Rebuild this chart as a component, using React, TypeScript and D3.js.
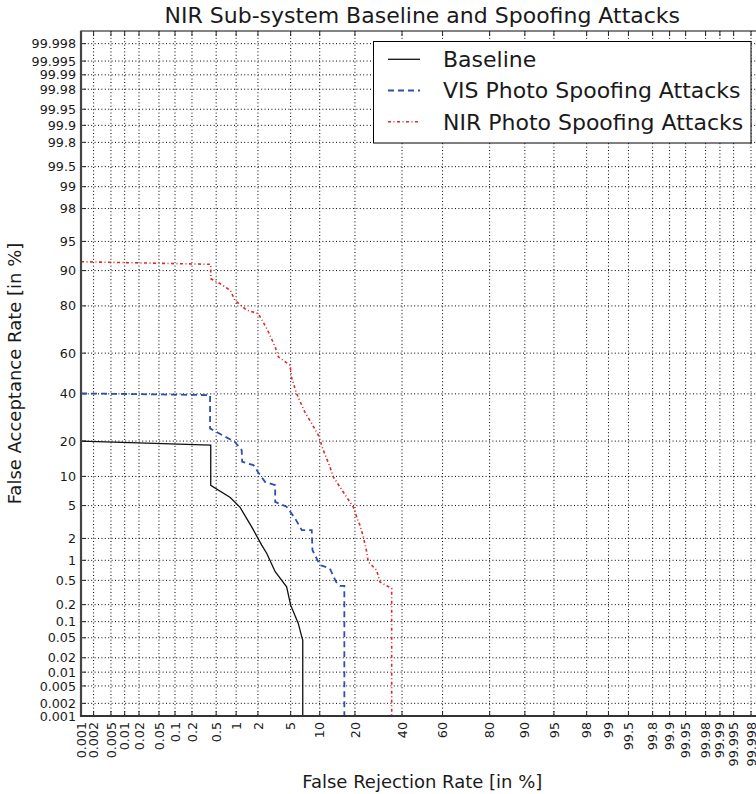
import React from "react";
import * as d3 from "d3";

const tickValues = [0.001, 0.002, 0.005, 0.01, 0.02, 0.05, 0.1, 0.2, 0.5, 1, 2, 5, 10, 20, 40, 60, 80, 90, 95, 98, 99, 99.5, 99.8, 99.9, 99.95, 99.98, 99.99, 99.995, 99.998];
const tickLabels = ["0.001", "0.002", "0.005", "0.01", "0.02", "0.05", "0.1", "0.2", "0.5", "1", "2", "5", "10", "20", "40", "60", "80", "90", "95", "98", "99", "99.5", "99.8", "99.9", "99.95", "99.98", "99.99", "99.995", "99.998"];

const baselineFRR = [0.001, 0.41, 0.41, 0.82, 1.14, 1.65, 2.24, 2.6, 3.3, 4.5, 5.0, 6.06, 6.6, 6.76, 6.76];
const baselineFAR = [19.97, 18.6, 8.2, 6.14, 4.77, 2.81, 1.63, 1.25, 0.68, 0.395, 0.196, 0.093, 0.052, 0.045, 0.001];

const visFRR = [0.001, 0.4, 0.4, 0.96, 1.2, 1.22, 1.74, 2.0, 2.47, 3.3, 3.3, 4.5, 5.6, 6.6, 8.35, 8.5, 10.05, 10.8, 12.4, 14.05, 15.2, 16.5, 16.5];
const visFAR = [40.2, 39.4, 24.7, 19.7, 17, 13.6, 12.7, 11, 8.86, 8.2, 5.5, 4.85, 3.55, 2.56, 2.56, 1.39, 0.85, 0.82, 0.76, 0.474, 0.41, 0.41, 0.001];

const nirFRR = [0.001, 0.41, 0.41, 0.57, 0.82, 0.96, 1.41, 2.02, 2.6, 3.3, 3.6, 4.92, 5.1, 5.8, 7.1, 8.35, 9.7, 10.8, 12.4, 13.3, 17.2, 19.4, 21.2, 21.8, 23.05, 24.35, 24.98, 28.4, 29.8, 33.1, 35.1, 35.1];
const nirFAR = [91.8, 91.3, 88.1, 86.9, 85, 81.9, 78.5, 77.2, 71.2, 63, 58.2, 54.1, 48.3, 40.2, 31.6, 26.7, 22.1, 17, 12.3, 9.9, 6.2, 4.85, 3.24, 2.95, 2.1, 1.32, 0.95, 0.718, 0.474, 0.406, 0.373, 0.001];

const seriesNames = ["Baseline", "VIS Photo Spoofing Attacks", "NIR Photo Spoofing Attacks"];

function probit(p: number): number {
  const a = [-3.969683028665376e1, 2.209460984245205e2, -2.759285104469687e2, 1.38357751867269e2, -3.066479806614716e1, 2.506628277459239];
  const b = [-5.447609879822406e1, 1.615858368580409e2, -1.556989798598866e2, 6.680131188771972e1, -1.328068155288572e1];
  const c = [-7.784894002430293e-3, -3.223964580411365e-1, -2.400758277161838, -2.549732539343734, 4.374664141464968, 2.938163982698783];
  const d = [7.784695709041462e-3, 3.224671290700398e-1, 2.445134137142996, 3.754408661907416];
  const plow = 0.02425;
  if (p < plow) {
    const q = Math.sqrt(-2 * Math.log(p));
    return (((((c[0] * q + c[1]) * q + c[2]) * q + c[3]) * q + c[4]) * q + c[5]) / ((((d[0] * q + d[1]) * q + d[2]) * q + d[3]) * q + 1);
  } else if (p <= 1 - plow) {
    const q = p - 0.5;
    const r = q * q;
    return ((((((a[0] * r + a[1]) * r + a[2]) * r + a[3]) * r + a[4]) * r + a[5]) * q) / (((((b[0] * r + b[1]) * r + b[2]) * r + b[3]) * r + b[4]) * r + 1);
  } else {
    const q = Math.sqrt(-2 * Math.log(1 - p));
    return -(((((c[0] * q + c[1]) * q + c[2]) * q + c[3]) * q + c[4]) * q + c[5]) / ((((d[0] * q + d[1]) * q + d[2]) * q + d[3]) * q + 1);
  }
}

const W = 756, H = 794;
const L = 81, R = 763.6, T = 31, B = 716;
const FONT = "'DejaVu Sans', sans-serif";
const TXT = "#1a1a1a";

export default function App() {
  const zmin = probit(0.00001), zmax = probit(0.99999);
  const x = d3.scaleLinear().domain([zmin, zmax]).range([L, R]);
  const y = d3.scaleLinear().domain([zmin, zmax]).range([B, T]);
  const px = (v: number) => x(probit(v / 100));
  const py = (v: number) => y(probit(v / 100));
  const line = d3.line<[number, number]>().x((d) => px(d[0])).y((d) => py(d[1]));
  const mk = (a: number[], b: number[]) => a.map((v, i) => [v, b[i]] as [number, number]);

  const series = [
    { name: seriesNames[0], d: mk(baselineFRR, baselineFAR), color: "#111111", dash: "none", w: 1.3 },
    { name: seriesNames[1], d: mk(visFRR, visFAR), color: "#2f4fb0", dash: "6,4", w: 1.8 },
    { name: seriesNames[2], d: mk(nirFRR, nirFAR), color: "#e02828", dash: "3,2.5,1,2.5", w: 1.6 },
  ];

  return (
    <svg width={W} height={H} style={{ position: "absolute", left: 0, top: 0, background: "#fff" }} fontFamily={FONT}>
      <rect x={0} y={0} width={W} height={H} fill="#fff" />
      {/* grid */}
      {tickValues.map((t, i) => (
        <g key={"g" + i}>
          <line x1={px(t)} x2={px(t)} y1={T} y2={B} stroke="#000" strokeWidth={1} strokeDasharray="1,2.4" />
          <line x1={L} x2={R} y1={py(t)} y2={py(t)} stroke="#000" strokeWidth={1} strokeDasharray="1,2.4" />
        </g>
      ))}
      {/* ticks inside */}
      {tickValues.map((t, i) => (
        <g key={"t" + i} stroke="#222" strokeWidth={1}>
          <line x1={px(t)} x2={px(t)} y1={B} y2={B - 5} />
          <line x1={px(t)} x2={px(t)} y1={T} y2={T + 5} />
          <line x1={L} x2={L + 5} y1={py(t)} y2={py(t)} />
          <line x1={R} x2={R - 5} y1={py(t)} y2={py(t)} />
        </g>
      ))}
      {/* series */}
      <g clipPath="url(#clipPlot)">
        {series.map((s) => (
          <path key={s.name} d={line(s.d) || ""} fill="none" stroke={s.color} strokeWidth={s.w} strokeDasharray={s.dash} />
        ))}
      </g>
      <defs>
        <clipPath id="clipPlot">
          <rect x={L} y={T} width={R - L} height={B - T} />
        </clipPath>
      </defs>
      {/* spines */}
      <rect x={L} y={T} width={R - L} height={B - T} fill="none" stroke="#333" strokeWidth={1.2} />
      <line x1={L} x2={L} y1={T} y2={B + 1} stroke="#444" strokeWidth={2.2} />
      <line x1={L - 1} x2={R} y1={B} y2={B} stroke="#333" strokeWidth={2.2} />
      {/* y tick labels */}
      {tickValues.map((t, i) => (
        <text key={"yl" + i} x={76} y={py(t)} dy="0.36em" textAnchor="end" fontSize={12.7} fill={TXT}>
          {tickLabels[i]}
        </text>
      ))}
      {/* x tick labels */}
      {tickValues.map((t, i) => (
        <text key={"xl" + i} transform={`translate(${px(t)},${722}) rotate(-90)`} dy="0.36em" textAnchor="end" fontSize={12.7} fill={TXT}>
          {tickLabels[i]}
        </text>
      ))}
      {/* title & labels */}
      <text x={(L + R) / 2} y={23.3} textAnchor="middle" fontSize={22} fill={TXT}>
        NIR Sub-system Baseline and Spoofing Attacks
      </text>
      <text x={(L + R) / 2} y={788} textAnchor="middle" fontSize={18} fill={TXT}>
        False Rejection Rate [in %]
      </text>
      <text transform={`translate(20.7,${(T + B) / 2}) rotate(-90)`} textAnchor="middle" fontSize={18} fill={TXT}>
        False Acceptance Rate [in %]
      </text>
      {/* legend */}
      <g>
        <rect x={373.5} y={41.5} width={377.5} height={101.5} fill="#fff" stroke="#000" strokeWidth={1} />
        {series.map((s, i) => {
          const cy = 59.3 + i * 31.2;
          return (
            <g key={"lg" + i}>
              <line x1={388} x2={420} y1={cy} y2={cy} stroke={s.color} strokeWidth={s.w} strokeDasharray={s.dash} />
              <text x={443} y={cy} dy="0.36em" fontSize={22} fill={TXT}>
                {s.name}
              </text>
            </g>
          );
        })}
      </g>
    </svg>
  );
}
